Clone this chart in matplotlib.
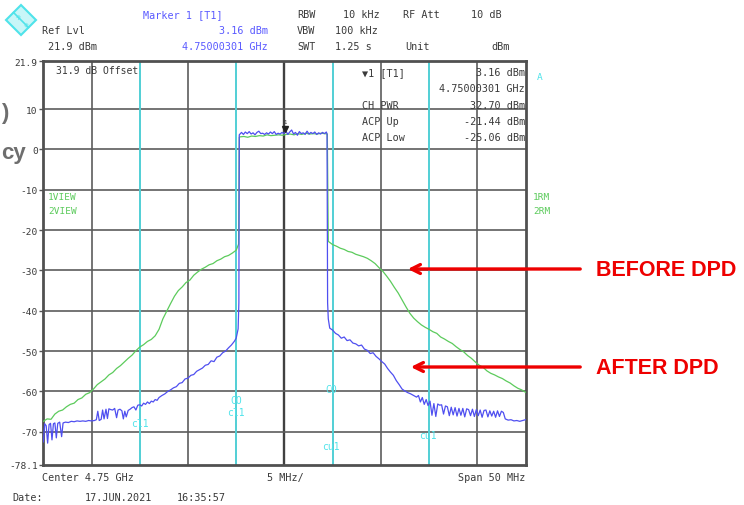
import matplotlib.pyplot as plt
from matplotlib.patches import Polygon

W, H = 744, 506

# frequency offset from 4.75 GHz (MHz) and level (dBm)
before_f = [-25.0, -24.6, -24.2, -23.8, -23.4, -23.0, -22.6, -22.2, -21.8, -21.4,
            -21.0, -20.6, -20.2, -19.8, -19.4, -19.0, -18.6, -18.2, -17.8, -17.4,
            -17.0, -16.6, -16.2, -15.8, -15.4, -15.0, -14.6, -14.2, -13.8, -13.4,
            -13.0, -12.6, -12.2, -11.8, -11.4, -11.0, -10.6, -10.2, -9.8, -9.4,
            -9.0, -8.6, -8.2, -7.8, -7.4, -7.0, -6.6, -6.2, -5.8, -5.4,
            -5.0, -4.75, -4.68,
            -4.6, -4.2, -3.8, -3.4, -3.0, -2.6, -2.2, -1.8, -1.4, -1.0,
            -0.6, -0.2, 0.2, 0.6, 1.0, 1.4, 1.8, 2.2, 2.6, 3.0,
            3.4, 3.8, 4.2, 4.45,
            4.55, 5.0, 5.4, 5.8, 6.2, 6.6, 7.0, 7.4, 7.8, 8.2,
            8.6, 9.0, 9.4, 9.8, 10.2, 10.6, 11.0, 11.4, 11.8, 12.2,
            12.6, 13.0, 13.4, 13.8, 14.2, 14.6, 15.0, 15.4, 15.8, 16.2,
            16.6, 17.0, 17.4, 17.8, 18.2, 18.6, 19.0, 19.4, 19.8, 20.2,
            20.6, 21.0, 21.4, 21.8, 22.2, 22.6, 23.0, 23.4, 23.8, 24.2,
            24.6, 25.0]
before_db = [-67.4, -66.8, -66.9, -65.6, -64.9, -64.6, -63.8, -63.2, -62.9, -62.0,
             -61.6, -60.7, -60.3, -59.4, -58.3, -57.6, -56.9, -55.9, -55.3, -54.3,
             -53.6, -52.7, -51.8, -51.0, -49.9, -49.0, -48.4, -47.6, -47.1, -46.2,
             -44.6, -42.0, -40.1, -38.2, -36.4, -35.0, -34.1, -33.0, -32.4, -31.2,
             -30.4, -29.7, -29.2, -28.6, -28.3, -27.6, -27.2, -26.6, -26.3, -25.7,
             -25.0, -23.5, 3.0,
             3.1, 3.2, 3.0, 3.3, 3.2, 3.4, 3.3, 3.6, 3.4, 3.5,
             3.6, 3.5, 3.7, 3.8, 3.6, 3.9, 3.7, 4.0, 3.8, 3.9,
             3.8, 4.0, 3.9, 3.8,
             -22.8, -23.6, -24.0, -24.5, -24.8, -25.3, -25.5, -26.0, -26.3, -26.6,
             -27.0, -27.6, -28.3, -29.3, -30.2, -31.4, -32.7, -34.2, -35.6, -37.3,
             -39.0, -40.6, -41.8, -42.7, -43.5, -44.1, -44.6, -45.2, -45.6, -46.5,
             -47.0, -47.6, -48.1, -48.9, -49.6, -50.2, -51.1, -51.8, -52.7, -53.5,
             -54.0, -54.9, -55.5, -55.9, -56.4, -56.8, -57.4, -57.9, -58.6, -59.2,
             -59.6, -60.2]

after_f = [-25.0, -24.85, -24.7, -24.55, -24.4, -24.25, -24.1, -23.95, -23.8, -23.65,
           -23.5, -23.3, -23.1, -22.95, -22.7, -22.4, -22.1, -21.8, -21.5, -21.2,
           -20.9, -20.6, -20.3, -20.0, -19.7, -19.5, -19.35, -19.2, -19.0, -18.85,
           -18.7, -18.5, -18.35, -18.2, -18.0, -17.8, -17.6, -17.4, -17.25, -17.05,
           -16.85, -16.7, -16.55, -16.4, -16.2, -16.0, -15.8, -15.6, -15.4, -15.2,
           -15.0, -14.8, -14.6, -14.4, -14.2, -14.0, -13.8, -13.6, -13.4, -13.2,
           -13.0, -12.7, -12.4, -12.1, -11.8, -11.5, -11.2, -10.9, -10.6, -10.3,
           -10.0, -9.7, -9.4, -9.1, -8.8, -8.5, -8.2, -7.9, -7.6, -7.3,
           -7.0, -6.7, -6.4, -6.1, -5.8, -5.5, -5.2, -5.0, -4.8, -4.72,
           -4.68, -4.45, -4.25, -4.05, -3.85, -3.65, -3.45, -3.25, -3.05, -2.85,
           -2.65, -2.45, -2.25, -2.05, -1.85, -1.65, -1.45, -1.25, -1.05, -0.85,
           -0.65, -0.45, -0.25, -0.05, 0.15, 0.35, 0.55, 0.75, 0.95, 1.15,
           1.35, 1.55, 1.75, 1.95, 2.15, 2.35, 2.55, 2.75, 2.95, 3.15,
           3.35, 3.55, 3.75, 3.95, 4.15, 4.35, 4.42, 4.48, 4.55,
           4.7, 5.0, 5.3, 5.6, 5.9, 6.2, 6.5, 6.8, 7.1, 7.4,
           7.7, 8.0, 8.3, 8.6, 8.9, 9.2, 9.5, 9.8, 10.1, 10.4,
           10.7, 11.0, 11.3, 11.6, 11.9, 12.2, 12.5, 12.8, 13.1, 13.4,
           13.7, 13.9, 14.1, 14.3, 14.5, 14.7, 14.9, 15.1, 15.3, 15.5,
           15.7, 15.9, 16.1, 16.3, 16.5, 16.7, 16.9, 17.1, 17.3, 17.5,
           17.7, 17.9, 18.1, 18.3, 18.5, 18.7, 18.9, 19.1, 19.3, 19.5,
           19.7, 19.9, 20.1, 20.3, 20.5, 20.7, 20.9, 21.1, 21.3, 21.5,
           21.7, 21.9, 22.1, 22.3, 22.5, 22.7, 22.9, 23.2, 23.5, 23.8,
           24.1, 24.4, 24.7, 25.0]
after_db = [-72.5, -68.0, -68.5, -72.8, -68.2, -67.9, -72.0, -68.0, -67.8, -71.5,
            -67.9, -67.6, -71.2, -67.8, -67.6, -67.7, -67.4, -67.5, -67.3, -67.4,
            -67.3, -67.4, -67.2, -67.3, -67.2, -67.0, -64.9, -67.2, -66.9, -64.6,
            -66.8, -64.4, -66.7, -64.3, -64.5, -64.6, -64.2, -66.5, -64.6, -64.4,
            -64.8, -66.8, -64.9, -66.3, -64.7, -64.4, -64.0, -63.8, -64.6, -63.4,
            -63.3, -63.6, -62.9, -63.2, -62.6, -63.0, -62.4, -62.6, -62.0, -62.2,
            -61.5, -61.0, -60.6, -60.0, -59.6, -59.1, -58.8, -58.0, -57.8, -56.9,
            -56.7, -56.0, -55.8, -55.0, -54.6, -54.2, -53.5, -53.3, -52.4, -52.6,
            -51.5, -51.2, -50.4, -50.0, -49.2, -48.5, -47.6, -46.8, -44.5, -38.0,
            3.6, 4.2, 3.7, 4.3, 3.9, 4.4, 3.8, 4.1, 3.6, 4.2,
            4.5, 3.9, 4.0, 3.7, 4.1, 3.8, 4.3, 3.9, 4.4, 3.7,
            4.0, 3.8, 4.2, 3.9, 4.6, 3.7, 4.3, 4.8, 3.8, 4.2,
            3.5, 4.4, 3.9, 4.1, 3.7, 4.5, 3.8, 4.2, 3.9, 4.3,
            3.7, 4.1, 3.8, 4.2, 3.9, 4.3, 3.8, -38.0, -42.0,
            -44.3, -44.8, -45.6, -46.0, -46.8, -46.5, -47.4, -47.2, -48.0, -48.2,
            -48.7, -48.5, -49.5, -49.8, -50.6, -50.4, -51.3, -51.9, -52.6, -53.2,
            -54.3, -55.2, -56.0, -57.3, -58.3, -59.4, -59.9, -60.3, -60.6, -61.0,
            -61.4, -61.0, -62.6, -61.5, -63.2, -62.0, -63.5, -62.4, -65.9, -63.0,
            -66.2, -63.1, -63.4, -63.3, -65.6, -63.6, -63.8, -66.0, -63.9, -65.8,
            -64.0, -66.1, -64.2, -65.9, -64.2, -66.3, -64.3, -64.5, -66.0, -64.4,
            -66.2, -64.5, -66.0, -64.6, -66.4, -64.7, -64.6, -66.3, -64.8, -66.1,
            -64.9, -66.4, -64.8, -66.2, -64.9, -65.2, -66.8, -67.1, -67.0, -67.3,
            -67.2, -67.4, -67.2, -67.0]

channel_lines = [-15, -5, 5, 15]
ytick_vals = [21.9, 10, 0, -10, -20, -30, -40, -50, -60, -70, -78.1]
ytick_labels = ["21.9", "10", "0", "-10", "-20", "-30", "-40", "-50", "-60", "-70", "-78.1"]

MONO = "DejaVu Sans Mono"
GRAY = "#3a3a3a"
CYAN = "#4fe3ea"
GREEN = "#5ccb5c"
BLUE = "#4f4ff0"
LBLUE = "#5a5aff"


def P(x, y):
    return x / W, 1 - y / H


fig = plt.figure(figsize=(W / 100, H / 100), dpi=100)
ax = fig.add_axes([43.3 / W, 1 - 465.5 / H, (525.5 - 43.3) / W, (465.5 - 62) / H])

ax.set_xlim(-25, 25)
ax.set_ylim(-78.1, 21.9)
for gx in range(-20, 25, 5):
    ax.axvline(gx, color="#404040" if gx == 0 else "#5c5c5c",
               lw=1.7 if gx == 0 else 1.2, zorder=1)
for gy in range(-70, 20, 10):
    ax.axhline(gy, color="#5c5c5c", lw=1.2, zorder=1)
for cx in channel_lines:
    ax.axvline(cx, color=CYAN, lw=1.2, zorder=2)

ax.plot(before_f, before_db, color=GREEN, lw=0.9, zorder=3)
ax.plot(after_f, after_db, color=BLUE, lw=0.9, zorder=4)
ax.plot([0.05], [5.0], marker="v", color="#222", ms=4, zorder=5)
ax.text(0.05, 6.2, "1", fontsize=4, family=MONO, ha="center", va="bottom", color="#333")

ax.set_xticks([])
ax.set_yticks(ytick_vals)
ax.set_yticklabels(ytick_labels, family=MONO, fontsize=6.8, color=GRAY)
ax.tick_params(axis="y", length=3, width=1, color="#555", pad=1)
for s in ax.spines.values():
    s.set_color("#505050")
    s.set_linewidth(2)

# cyan channel labels
cyan_labels = [(140, 424, "cl1"), (236, 401, "CO"), (236, 413, "cl1"),
               (331, 390, "CO"), (331, 447, "cu1"), (428, 436, "cu1")]
for x, y, s in cyan_labels:
    fig.text(*P(x, y), s, family=MONO, fontsize=7, color=CYAN, ha="center", va="center")

# text inside the screen
fig.text(*P(56, 71), "31.9 dB Offset", family=MONO, fontsize=7, color=GRAY, va="center")
fig.text(*P(48, 198), "1VIEW", family=MONO, fontsize=6.8, color=GREEN, va="center")
fig.text(*P(48, 212), "2VIEW", family=MONO, fontsize=6.8, color=GREEN, va="center")
fig.text(*P(533, 198), "1RM", family=MONO, fontsize=6.8, color=GREEN, va="center")
fig.text(*P(533, 212), "2RM", family=MONO, fontsize=6.8, color=GREEN, va="center")
fig.text(*P(537, 78), "A", family=MONO, fontsize=6.8, color=CYAN, va="center")

marker_rows = [("\u25bc1 [T1]", "3.16 dBm", 73), ("", "4.75000301 GHz", 89),
               ("CH PWR", "32.70 dBm", 106), ("ACP Up", "-21.44 dBm", 122),
               ("ACP Low", "-25.06 dBm", 138)]
for lab, val, y in marker_rows:
    fig.text(*P(362, y), lab, family=MONO, fontsize=7.3, color=GRAY, va="center")
    fig.text(*P(525, y), val, family=MONO, fontsize=7.3, color=GRAY, va="center", ha="right")

# header
header = [(143, 15, "Marker 1 [T1]", LBLUE, "left"), (268, 31, "3.16 dBm", LBLUE, "right"),
          (268, 47, "4.75000301 GHz", LBLUE, "right"),
          (42, 31, "Ref Lvl", GRAY, "left"), (48, 47, "21.9 dBm", GRAY, "left"),
          (297, 15, "RBW", GRAY, "left"), (343, 15, "10 kHz", GRAY, "left"),
          (403, 15, "RF Att", GRAY, "left"), (502, 15, "10 dB", GRAY, "right"),
          (297, 31, "VBW", GRAY, "left"), (335, 31, "100 kHz", GRAY, "left"),
          (297, 47, "SWT", GRAY, "left"), (335, 47, "1.25 s", GRAY, "left"),
          (405, 47, "Unit", GRAY, "left"), (510, 47, "dBm", GRAY, "right")]
for x, y, s, c, ha in header:
    fig.text(*P(x, y), s, family=MONO, fontsize=7.3, color=c, ha=ha, va="center")

# R&S logo
logo = Polygon([P(21, 6), P(36, 21), P(21, 36), P(6, 21)], closed=True,
               transform=fig.transFigure, facecolor="#c8f6f8", edgecolor=CYAN, lw=1.5)
fig.add_artist(logo)
fig.add_artist(plt.Line2D([P(13.5, 13.5)[0], P(28.5, 28.5)[0]], [P(13.5, 13.5)[1], P(28.5, 28.5)[1]],
                          transform=fig.transFigure, color=CYAN, lw=1.2))
fig.text(*P(17, 17), "R", fontsize=4.5, color=CYAN, ha="center", va="center", rotation=-45)
fig.text(*P(25, 25), "S", fontsize=4.5, color=CYAN, ha="center", va="center", rotation=-45)

# footer
fig.text(*P(42, 478), "Center 4.75 GHz", family=MONO, fontsize=7.3, color=GRAY, va="center")
fig.text(*P(285, 478), "5 MHz/", family=MONO, fontsize=7.3, color=GRAY, va="center", ha="center")
fig.text(*P(525, 478), "Span 50 MHz", family=MONO, fontsize=7.3, color=GRAY, va="center", ha="right")
fig.text(*P(12, 498), "Date:", family=MONO, fontsize=7.3, color=GRAY, va="center")
fig.text(*P(85, 498), "17.JUN.2021", family=MONO, fontsize=7.3, color=GRAY, va="center")
fig.text(*P(177, 498), "16:35:57", family=MONO, fontsize=7.3, color=GRAY, va="center")

# slide text fragments at the left edge
fig.text(*P(1, 113), ")", fontsize=16, fontweight="bold", color="#6e6e6e",
         family="Liberation Sans", ha="left", va="center")
fig.text(*P(1, 153), "cy", fontsize=16, fontweight="bold", color="#6e6e6e",
         family="Liberation Sans", ha="left", va="center")

# red annotations
for y, tip, label in [(270, 405, "BEFORE DPD"), (368, 408, "AFTER DPD")]:
    ax.annotate("", xy=(tip, H - y), xytext=(583, H - y),
                xycoords="figure pixels", textcoords="figure pixels",
                arrowprops=dict(arrowstyle="->", color="#ee0000", lw=2.4,
                                mutation_scale=16),
                annotation_clip=False)
    fig.text(*P(596, y + 1), label, fontsize=15.5, fontweight="bold", color="#ee0000",
             family="Liberation Sans", va="center")

fig.savefig("out.png", dpi=100, facecolor="white")
